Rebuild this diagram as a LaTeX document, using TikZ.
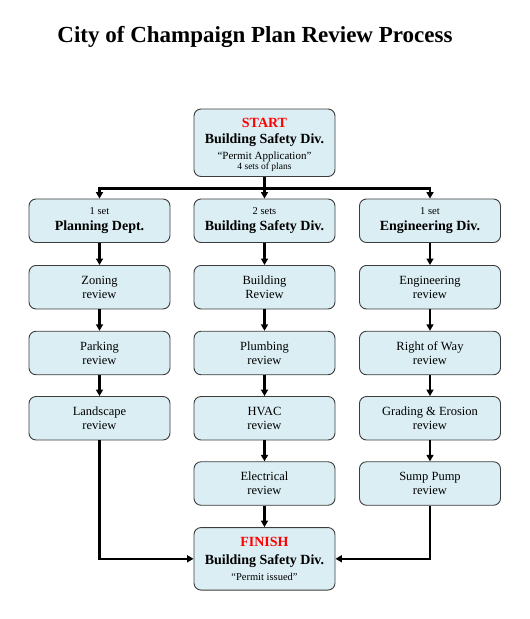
\documentclass[tikz,border=0pt]{standalone}
\usepackage{fontspec}
\setmainfont{Liberation Serif}
\usetikzlibrary{arrows.meta}
\definecolor{boxfill}{RGB}{219,238,244}
\definecolor{boxline}{RGB}{60,60,60}
\definecolor{alertred}{RGB}{255,0,0}
\newcommand{\smalltxt}{\fontsize{10.5}{12}\selectfont}
\newcommand{\midtxt}{\fontsize{11}{12}\selectfont}
\newcommand{\tinytxt}{\fontsize{9.5}{10}\selectfont}
\tikzset{
  stepbox/.style={draw=boxline, line width=0.9pt, fill=boxfill, rounded corners=7pt,
    minimum width=141pt, minimum height=43.5pt, inner sep=0pt, align=center,
    font=\fontsize{12.5}{14}\selectfont},
  headbox/.style={stepbox, font=\fontsize{14}{16}\selectfont},
  conn/.style={line width=2.2pt, -{Triangle[length=6.5pt,width=7pt]}},
  busline/.style={line width=2.6pt},
}
\begin{document}
\begin{tikzpicture}[x=1pt,y=-1pt]
\useasboundingbox (0,0) rectangle (530,619);
\node[anchor=base, font=\fontsize{23}{27}\selectfont\bfseries] (title) at (255,42.3) {City of Champaign Plan Review Process};

% start
\node[headbox, minimum height=67.5pt] (start) at (264.5,142.75)
  {\rule{0pt}{13.5pt}{\color{alertred}\bfseries START}\\
   {\bfseries Building Safety Div.}\\
   {\midtxt “Permit Application”}\\[-6pt]
   {\tinytxt 4 sets of plans}};

% row 1
\node[headbox] (plan0) at (99.5,220.75) {{\smalltxt 1 set}\\{\bfseries Planning Dept.}};
\node[headbox] (bld0) at (264.5,220.75) {{\smalltxt 2 sets}\\{\bfseries Building Safety Div.}};
\node[headbox] (eng0) at (430,220.75) {{\smalltxt 1 set}\\{\bfseries Engineering Div.}};

% planning column
\node[stepbox] (plan1) at (99.5,287.2) {Zoning\\review};
\node[stepbox] (plan2) at (99.5,353) {Parking\\review};
\node[stepbox] (plan3) at (99.5,418.25) {Landscape\\review};

% building column
\node[stepbox] (bld1) at (264.5,287.2) {Building\\Review};
\node[stepbox] (bld2) at (264.5,353) {Plumbing\\review};
\node[stepbox] (bld3) at (264.5,418.25) {HVAC\\review};
\node[stepbox] (bld4) at (264.5,483.5) {Electrical\\review};

% engineering column
\node[stepbox] (eng1) at (430,287.2) {Engineering\\review};
\node[stepbox] (eng2) at (430,353) {Right of Way\\review};
\node[stepbox] (eng3) at (430,418.25) {Grading \& Erosion\\review};
\node[stepbox] (eng4) at (430,483.5) {Sump Pump\\review};

% finish
\node[headbox, minimum height=62.5pt] (finish) at (264.5,558.8)
  {{\color{alertred}\bfseries FINISH}\\[2.5pt]
   {\bfseries Building Safety Div.}\\
   {\smalltxt “Permit issued”}};

% bus
\coordinate (busL) at (99.5,188.3);
\coordinate (busM) at (264.5,188.3);
\coordinate (busR) at (430,188.3);
\draw[busline] (start.south) -- (busM);
\draw[busline, line cap=rect] (busL) -- (busR);
\draw[conn] (busL) -- (plan0.north);
\draw[conn] (busM) -- (bld0.north);
\draw[conn] (busR) -- (eng0.north);

% columns
\draw[conn] (plan0) -- (plan1);
\draw[conn] (plan1) -- (plan2);
\draw[conn] (plan2) -- (plan3);
\draw[conn] (bld0) -- (bld1);
\draw[conn] (bld1) -- (bld2);
\draw[conn] (bld2) -- (bld3);
\draw[conn] (bld3) -- (bld4);
\draw[conn] (bld4) -- (finish);
\draw[conn] (eng0) -- (eng1);
\draw[conn] (eng1) -- (eng2);
\draw[conn] (eng2) -- (eng3);
\draw[conn] (eng3) -- (eng4);
\draw[conn] (plan3.south) |- (finish.west);
\draw[conn] (eng4.south) |- (finish.east);
\end{tikzpicture}
\end{document}
